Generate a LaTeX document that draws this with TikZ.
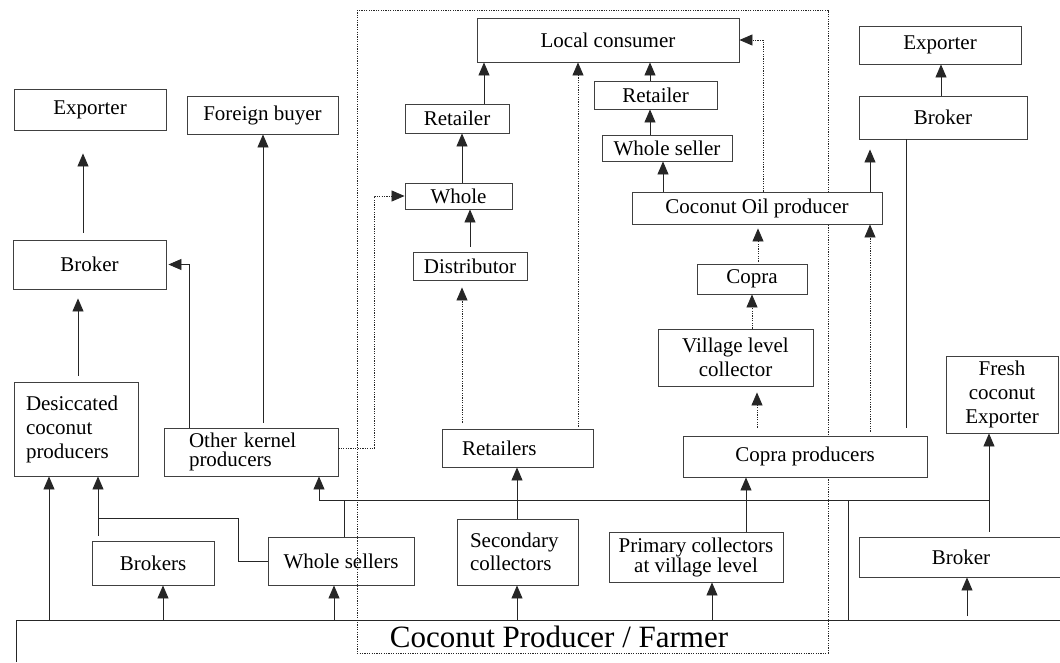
\documentclass[tikz,border=0pt]{standalone}
\usepackage{fontspec}
\setmainfont{Liberation Serif}
\usetikzlibrary{arrows.meta}
\begin{document}
\begin{tikzpicture}[x=1pt,y=-1pt,
  box/.style={draw=black!75, line width=0.9pt, fill=white, inner sep=0pt, align=center,
              font=\fontsize{21}{24}\selectfont},
  sz/.style 2 args={minimum width=#1pt, minimum height=#2pt},
  lbox/.style 2 args={text width=#1pt, inner xsep=#2pt, align=left},
  con/.style={line width=0.9pt, draw=black!85},
  tip/.style={-{Triangle[length=13pt,width=11pt]}},
  arr/.style={con, tip},
  dots/.style={line width=0.8pt, draw=black!85, dash pattern=on 1.2pt off 1.2pt},
  darr/.style={dots, tip}]

\fill[white] (0,0) rectangle (1060,662);
\useasboundingbox (0,0) rectangle (1060,662);

% dotted frame around the domestic channel
\draw[dots] (357,10) rectangle (828,653);

% farmer base and the shared bus line
\coordinate (fl) at (16,620);
\coordinate (fr) at (1060,620);
\coordinate (fb) at (16,662);
\coordinate (b1) at (319,500);
\coordinate (b2) at (989,500);
\coordinate (j1) at (98,518);
\draw[con] (fb) -- (fl) -- (fr);
\node[font=\fontsize{31}{36}\selectfont, anchor=base, inner sep=0pt] (farmer) at (559,647) {Coconut Producer / Farmer};

% left column
\node[box,sz={152}{41}] (expL) at (90,109.5) {Exporter};
\node[box,sz={151}{38}] (fbuy) at (262.5,115) {Foreign buyer};
\node[box,sz={153}{49}] (brkL) at (89.5,264.5) {Broker};
\node[box,sz={124}{94},lbox={100}{12}] (desc) at (76,429) {Desiccated\\coconut\\producers};
\node[box,sz={174}{48},lbox={124}{25},font=\fontsize{21}{19}\selectfont] (okp) at (251,452) {Other kernel\\producers};
\node[box,sz={122}{44}] (brks) at (153,563) {Brokers};
\node[box,sz={146}{48},fill=none] (whs) at (341,561) {Whole sellers};

% middle column
\node[box,sz={262}{44}] (loc) at (608,40) {Local consumer};
\node[box,sz={104}{29}] (retM) at (457,118.5) {Retailer};
\node[box,sz={107}{26}] (whole) at (458.5,196) {Whole};
\node[box,sz={114}{28}] (dist) at (470,266) {Distributor};
\node[box,sz={151}{38},lbox={111}{20}] (rets) at (517.5,448) {Retailers};
\node[box,sz={121}{66},lbox={95}{13},font=\fontsize{21}{23}\selectfont] (sec) at (517.5,552) {Secondary\\collectors};
\node[box,sz={174}{50},font=\fontsize{21}{20}\selectfont] (prim) at (696,557) {Primary collectors\\at village level};

% oil chain
\node[box,sz={123}{28}] (retR) at (655.5,95) {Retailer};
\node[box,sz={130}{26}] (whsR) at (667,148) {Whole seller};
\node[box,sz={250}{32}] (oil) at (757,208) {Coconut Oil producer};
\node[box,sz={110}{30}] (copra) at (752,279) {Copra};
\node[box,sz={155}{57}] (vlc) at (735.5,357.5) {Village level\\collector};
\node[box,sz={244}{41}] (cprod) at (805,456.5) {Copra producers};

% right column
\node[box,sz={162}{38}] (expR) at (940,45) {Exporter};
\node[box,sz={168}{43}] (brkR) at (943,117.5) {Broker};
\node[box,sz={112}{77}] (fresh) at (1002,394.5) {Fresh\\coconut\\Exporter};
\node[box,sz={204}{40}] (brkB) at (961,557) {Broker};

% bus line
\draw[con] (b1) -- (b2);
\draw[arr] (b1) -- (okp.south -| b1);
\draw[con] (whs.north -| 344,0) -- (b1 -| 344,0);
\draw[con] (b1 -| 848,0) -- (fl -| 848,0);
\draw[arr, shorten <=5pt] (brkB.north -| b2) -- (fresh.south -| b2);

% flows out of the farmer
\draw[arr] (fl -| 49,0) -- (desc.south -| 49,0);
\draw[arr] (fl -| 163,0) -- (brks.south -| 163,0);
\draw[arr] (fl -| 334,0) -- (whs.south -| 334,0);
\draw[arr] (fl -| 517,0) -- (sec.south -| 517,0);
\draw[arr] (fl -| 712,0) -- (prim.south -| 712,0);
\draw[arr, shorten <=4pt] (fl -| 967,0) -- (brkB.south -| 967,0);

% left flows
\draw[arr, shorten <=5pt] (brks.north -| j1) -- (desc.south -| j1);
\draw[con] (whs.west) -| (238,518) -- (j1);
\draw[arr, shorten <=6pt, shorten >=9pt] (desc.north -| 78,0) -- (brkL.south -| 78,0);
\draw[arr, shorten <=7pt, shorten >=23pt] (brkL.north -| 83,0) -- (expL.south -| 83,0);
\draw[arr, shorten <=5pt] (okp.north -| 263,0) -- (fbuy.south -| 263,0);
\draw[arr, shorten >=2pt] (okp.north -| 189,0) |- (brkL.east);

% middle flows
\draw[arr] (sec.north -| 517,0) -- (rets.south -| 517,0);
\draw[arr] (prim.north -| 746,0) -- (cprod.south -| 746,0);
\draw[arr] (retM.north -| 484,0) -- (loc.south -| 484,0);
\draw[arr] (whole.north -| 462,0) -- (retM.south -| 462,0);
\draw[arr, shorten <=5pt] (dist.north -| 470,0) -- (whole.south -| 470,0);
\draw[darr, shorten <=6pt, shorten >=7pt] (rets.north -| 462,0) -- (dist.south -| 462,0);
\draw[darr, shorten <=2pt] (rets.north -| 578,0) -- (loc.south -| 578,0);
\draw[darr] ([yshift=4pt]okp.east) -- ++(36,0) |- (whole.west);

% oil and copra flows
\draw[arr] (retR.north -| 650,0) -- (loc.south -| 650,0);
\draw[arr] (whsR.north -| 650,0) -- (retR.south -| 650,0);
\draw[arr] (oil.north -| 663,0) -- (whsR.south -| 663,0);
\draw[arr, shorten >=10pt] (oil.north -| 870,0) -- (brkR.south -| 870,0);
\draw[arr] (brkR.north -| 941,0) -- (expR.south -| 941,0);
\draw[con, shorten >=8pt] (brkR.south -| 906,0) -- (cprod.north -| 906,0);
\draw[darr, shorten <=8pt, shorten >=6pt] (cprod.north -| 757,0) -- (vlc.south -| 757,0);
\draw[darr] (vlc.north -| 752,0) -- (copra.south -| 752,0);
\draw[darr, shorten <=2pt, shorten >=4pt] (copra.north -| 758,0) -- (oil.south -| 758,0);
\draw[darr] (oil.north -| 763,0) |- (loc.east);
\draw[darr, shorten <=4pt] (cprod.north -| 870,0) -- (oil.south -| 870,0);
\end{tikzpicture}
\end{document}
